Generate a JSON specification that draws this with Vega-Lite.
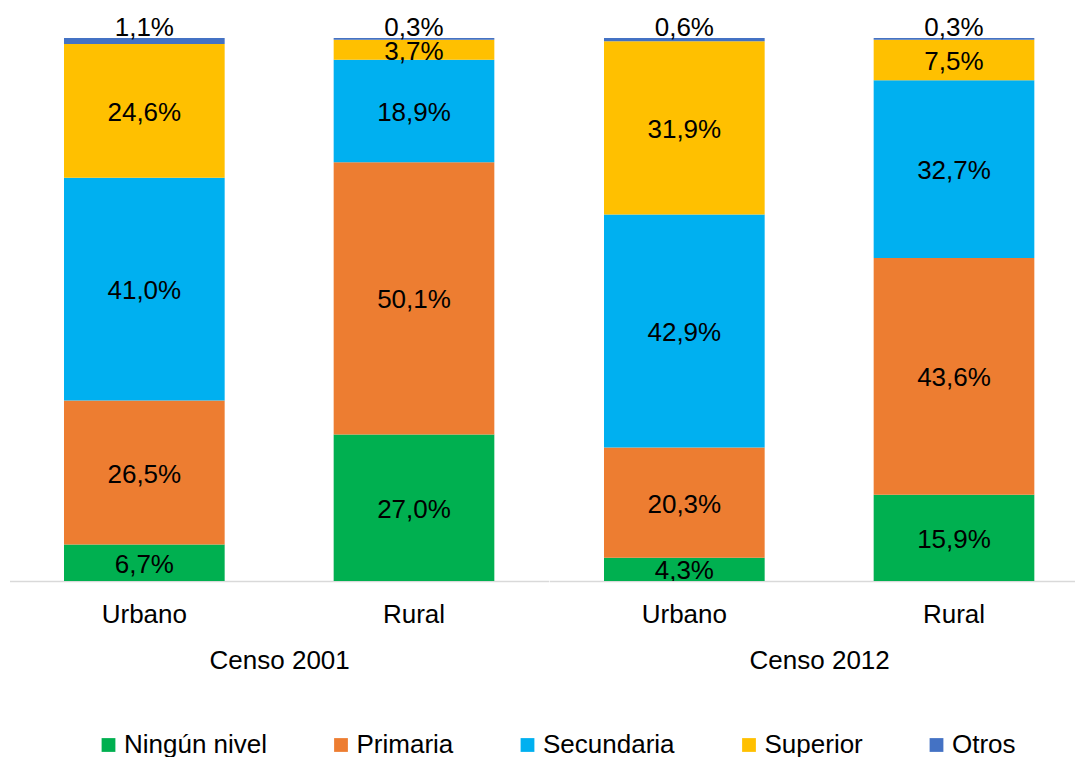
{
  "$schema": "https://vega.github.io/schema/vega-lite/v6.json",
  "autosize": {"type": "pad"},
  "padding": {"left": 9.5, "top": 15, "right": 0, "bottom": 0},
  "background": "white",
  "config": {
    "font": "Liberation Sans",
    "view": {"stroke": null},
    "axisX": {
      "domainColor": "#D9D9D9", "domainWidth": 1.7, "ticks": false, "grid": false,
      "labelFontSize": 26, "labelColor": "#000000", "labelPadding": 20, "labelAngle": 0,
      "titleFontSize": 26, "titleFontWeight": "normal", "titleColor": "#000000", "titlePadding": 20
    }
  },
  "data": {"values": [
    {"census": "Censo 2001", "area": "Urbano", "level": "Ningún nivel", "ord": 1, "value": 6.7, "label": "6,7%"},
    {"census": "Censo 2001", "area": "Urbano", "level": "Primaria", "ord": 2, "value": 26.5, "label": "26,5%"},
    {"census": "Censo 2001", "area": "Urbano", "level": "Secundaria", "ord": 3, "value": 41.0, "label": "41,0%"},
    {"census": "Censo 2001", "area": "Urbano", "level": "Superior", "ord": 4, "value": 24.6, "label": "24,6%"},
    {"census": "Censo 2001", "area": "Urbano", "level": "Otros", "ord": 5, "value": 1.1, "label": "1,1%"},
    {"census": "Censo 2001", "area": "Rural", "level": "Ningún nivel", "ord": 1, "value": 27.0, "label": "27,0%"},
    {"census": "Censo 2001", "area": "Rural", "level": "Primaria", "ord": 2, "value": 50.1, "label": "50,1%"},
    {"census": "Censo 2001", "area": "Rural", "level": "Secundaria", "ord": 3, "value": 18.9, "label": "18,9%"},
    {"census": "Censo 2001", "area": "Rural", "level": "Superior", "ord": 4, "value": 3.7, "label": "3,7%"},
    {"census": "Censo 2001", "area": "Rural", "level": "Otros", "ord": 5, "value": 0.3, "label": "0,3%"},
    {"census": "Censo 2012", "area": "Urbano", "level": "Ningún nivel", "ord": 1, "value": 4.3, "label": "4,3%"},
    {"census": "Censo 2012", "area": "Urbano", "level": "Primaria", "ord": 2, "value": 20.3, "label": "20,3%"},
    {"census": "Censo 2012", "area": "Urbano", "level": "Secundaria", "ord": 3, "value": 42.9, "label": "42,9%"},
    {"census": "Censo 2012", "area": "Urbano", "level": "Superior", "ord": 4, "value": 31.9, "label": "31,9%"},
    {"census": "Censo 2012", "area": "Urbano", "level": "Otros", "ord": 5, "value": 0.6, "label": "0,6%"},
    {"census": "Censo 2012", "area": "Rural", "level": "Ningún nivel", "ord": 1, "value": 15.9, "label": "15,9%"},
    {"census": "Censo 2012", "area": "Rural", "level": "Primaria", "ord": 2, "value": 43.6, "label": "43,6%"},
    {"census": "Censo 2012", "area": "Rural", "level": "Secundaria", "ord": 3, "value": 32.7, "label": "32,7%"},
    {"census": "Censo 2012", "area": "Rural", "level": "Superior", "ord": 4, "value": 7.5, "label": "7,5%"},
    {"census": "Censo 2012", "area": "Rural", "level": "Otros", "ord": 5, "value": 0.3, "label": "0,3%"}
  ]},
  "spacing": 0,
  "bounds": "flush",
  "resolve": {"scale": {"color": "shared"}},
  "hconcat": [
    {
      "width": 539.33, "height": 543,
      "transform": [{"filter": "datum.census == 'Censo 2001'"}],
      "encoding": {
        "x": {"field": "area", "type": "nominal", "sort": ["Urbano", "Rural"],
          "scale": {"paddingInner": 0.4042, "paddingOuter": 0.2021, "align": 0.5},
          "axis": {"title": "Censo 2001"}}
      },
      "layer": [
        {
          "mark": {"type": "bar"},
          "encoding": {
            "y": {"field": "value", "type": "quantitative", "stack": "normalize", "axis": null},
            "color": {"field": "level", "type": "nominal",
              "scale": {"domain": ["Ningún nivel", "Primaria", "Secundaria", "Superior", "Otros"],
                        "range": ["#00B050", "#ED7D31", "#00B0F0", "#FFC000", "#4472C4"]},
              "legend": {"orient": "none", "legendX": 86, "legendY": 694, "direction": "horizontal", "title": null, "symbolType": "square",
                "symbolSize": 190, "symbolStrokeWidth": 0, "labelFontSize": 26, "labelColor": "#000000",
                "labelOffset": 2.5, "columnPadding": 60.5}},
            "order": {"field": "ord", "type": "quantitative"}
          }
        },
        {
          "mark": {"type": "text", "fontSize": 26, "color": "#000000", "clip": true, "dy": 2},
          "encoding": {
            "y": {"field": "value", "type": "quantitative", "stack": "normalize", "bandPosition": 0.5},
            "detail": {"field": "level"},
            "order": {"field": "ord", "type": "quantitative"},
            "text": {"field": "label"},
            "opacity": {"condition": {"test": "datum.level == 'Otros'", "value": 0}, "value": 1}
          }
        },
        {
          "mark": {"type": "text", "fontSize": 26, "color": "#000000", "baseline": "alphabetic", "dy": -2},
          "encoding": {
            "y": {"field": "value", "type": "quantitative", "stack": "normalize"},
            "detail": {"field": "level"},
            "order": {"field": "ord", "type": "quantitative"},
            "text": {"field": "label"},
            "opacity": {"condition": {"test": "datum.level == 'Otros'", "value": 1}, "value": 0}
          }
        }
      ]
    },
    {
      "width": 539.33, "height": 543,
      "transform": [{"filter": "datum.census == 'Censo 2012'"}],
      "encoding": {
        "x": {"field": "area", "type": "nominal", "sort": ["Urbano", "Rural"],
          "scale": {"paddingInner": 0.4042, "paddingOuter": 0.2021, "align": 0.5},
          "axis": {"title": "Censo 2012"}}
      },
      "layer": [
        {
          "mark": {"type": "bar"},
          "encoding": {
            "y": {"field": "value", "type": "quantitative", "stack": "normalize", "axis": null},
            "color": {"field": "level", "type": "nominal"},
            "order": {"field": "ord", "type": "quantitative"}
          }
        },
        {
          "mark": {"type": "text", "fontSize": 26, "color": "#000000", "clip": true, "dy": 2},
          "encoding": {
            "y": {"field": "value", "type": "quantitative", "stack": "normalize", "bandPosition": 0.5},
            "detail": {"field": "level"},
            "order": {"field": "ord", "type": "quantitative"},
            "text": {"field": "label"},
            "opacity": {"condition": {"test": "datum.level == 'Otros'", "value": 0}, "value": 1}
          }
        },
        {
          "mark": {"type": "text", "fontSize": 26, "color": "#000000", "baseline": "alphabetic", "dy": -2},
          "encoding": {
            "y": {"field": "value", "type": "quantitative", "stack": "normalize"},
            "detail": {"field": "level"},
            "order": {"field": "ord", "type": "quantitative"},
            "text": {"field": "label"},
            "opacity": {"condition": {"test": "datum.level == 'Otros'", "value": 1}, "value": 0}
          }
        }
      ]
    }
  ]
}
